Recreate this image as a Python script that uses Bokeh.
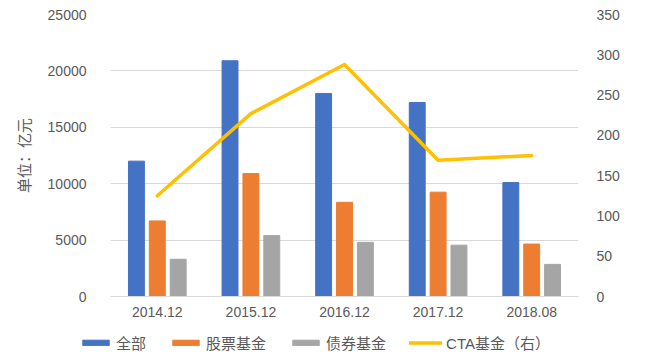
from bokeh.plotting import figure
from bokeh.models import (ColumnDataSource, FactorRange, Range1d, LinearAxis,
                          FixedTicker, Legend, LegendItem)
from bokeh.layouts import column
from bokeh.transform import dodge
from bokeh.embed import file_html
from bokeh.resources import INLINE

categories = ["2014.12", "2015.12", "2016.12", "2017.12", "2018.08"]
all_funds = [12000, 20900, 18000, 17200, 10100]
stock_funds = [6700, 10900, 8350, 9250, 4650]
bond_funds = [3300, 5400, 4800, 4550, 2850]
cta_funds = [125, 227, 288, 169, 175]
series_names = ["全部", "股票基金", "债券基金", "CTA基金（右）"]
left_ticks = [0, 5000, 10000, 15000, 20000, 25000]
right_ticks = [0, 50, 100, 150, 200, 250, 300, 350]

src = ColumnDataSource(dict(cat=categories, a=all_funds, s=stock_funds,
                            b=bond_funds, c=cta_funds))

FONT = "'Liberation Sans', 'Noto Sans CJK SC', sans-serif"
TXT = "#595959"
GRID = "#d9d9d9"
COLORS = ["#4472c4", "#ed7d31", "#a5a5a5", "#ffc000"]

p = figure(x_range=FactorRange(*categories), y_range=Range1d(0, 25000),
           width=659, height=330, output_backend="svg", toolbar_location=None,
           min_border_left=110, min_border_right=81, min_border_top=14,
           min_border_bottom=34)
p.outline_line_color = None
p.extra_y_ranges = {"right": Range1d(0, 350)}
p.frame_align = False

bw = 0.17


def draw(fig):
    r1 = fig.vbar(x=dodge("cat", -0.223, range=fig.x_range), top="a", width=bw,
                  source=src, color=COLORS[0])
    r2 = fig.vbar(x=dodge("cat", 0.0, range=fig.x_range), top="s", width=bw,
                  source=src, color=COLORS[1])
    r3 = fig.vbar(x=dodge("cat", 0.223, range=fig.x_range), top="b", width=bw,
                  source=src, color=COLORS[2])
    r4 = fig.line(x="cat", y="c", source=src, y_range_name="right",
                  line_color=COLORS[3], line_width=3.5, line_cap="round",
                  line_join="round")
    return [r1, r2, r3, r4]


draw(p)

# left axis
ya = p.yaxis[0]
ya.ticker = FixedTicker(ticks=left_ticks)
ya.axis_line_color = None
ya.major_tick_line_color = None
ya.minor_tick_line_color = None
ya.major_label_standoff = 18
ya.major_label_text_font = FONT
ya.major_label_text_font_size = "14px"
ya.major_label_text_color = TXT
ya.axis_label = "单位：亿元"
ya.axis_label_text_font = FONT
ya.axis_label_text_font_size = "15px"
ya.axis_label_text_font_style = "normal"
ya.axis_label_text_color = TXT
ya.axis_label_standoff = 12

# right axis
ra = LinearAxis(y_range_name="right", ticker=FixedTicker(ticks=right_ticks))
ra.axis_line_color = None
ra.major_tick_line_color = None
ra.minor_tick_line_color = None
ra.major_label_standoff = 12
ra.major_label_text_font = FONT
ra.major_label_text_font_size = "14px"
ra.major_label_text_color = TXT
p.add_layout(ra, "right")

# x axis
xa = p.xaxis[0]
xa.axis_line_color = GRID
xa.axis_line_width = 1
xa.major_tick_line_color = None
xa.minor_tick_line_color = None
xa.major_label_standoff = 4
xa.major_label_text_font = FONT
xa.major_label_text_font_size = "14px"
xa.major_label_text_color = TXT

p.xgrid.grid_line_color = None
p.ygrid.grid_line_color = GRID
p.ygrid.grid_line_width = 1

# legend strip: same series, ranges chosen so the marks fall far below its frame
lg = figure(x_range=FactorRange(*categories), y_range=Range1d(1e6, 2e6),
            width=659, height=28, output_backend="svg", toolbar_location=None,
            min_border=0, x_axis_location=None, y_axis_location=None)
lg.extra_y_ranges = {"right": Range1d(1e6, 2e6)}
lg.outline_line_color = None
lg.grid.visible = False
lg.frame_align = False
lr = draw(lg)

legend = Legend(items=[LegendItem(label=n, renderers=[r])
                       for n, r in zip(series_names, lr)],
                orientation="horizontal", location=(79, 5))
legend.padding = 0
legend.margin = 0
legend.spacing = 23
legend.glyph_width = 33
legend.glyph_height = 7
legend.label_height = 16
legend.label_standoff = 4
legend.label_text_font = FONT
legend.label_text_font_size = "15px"
legend.label_text_color = TXT
legend.border_line_color = None
legend.background_fill_alpha = 0
lg.add_layout(legend, "center")

layout = column(p, lg, spacing=0)
open("out.html", "w").write(file_html(layout, INLINE))
